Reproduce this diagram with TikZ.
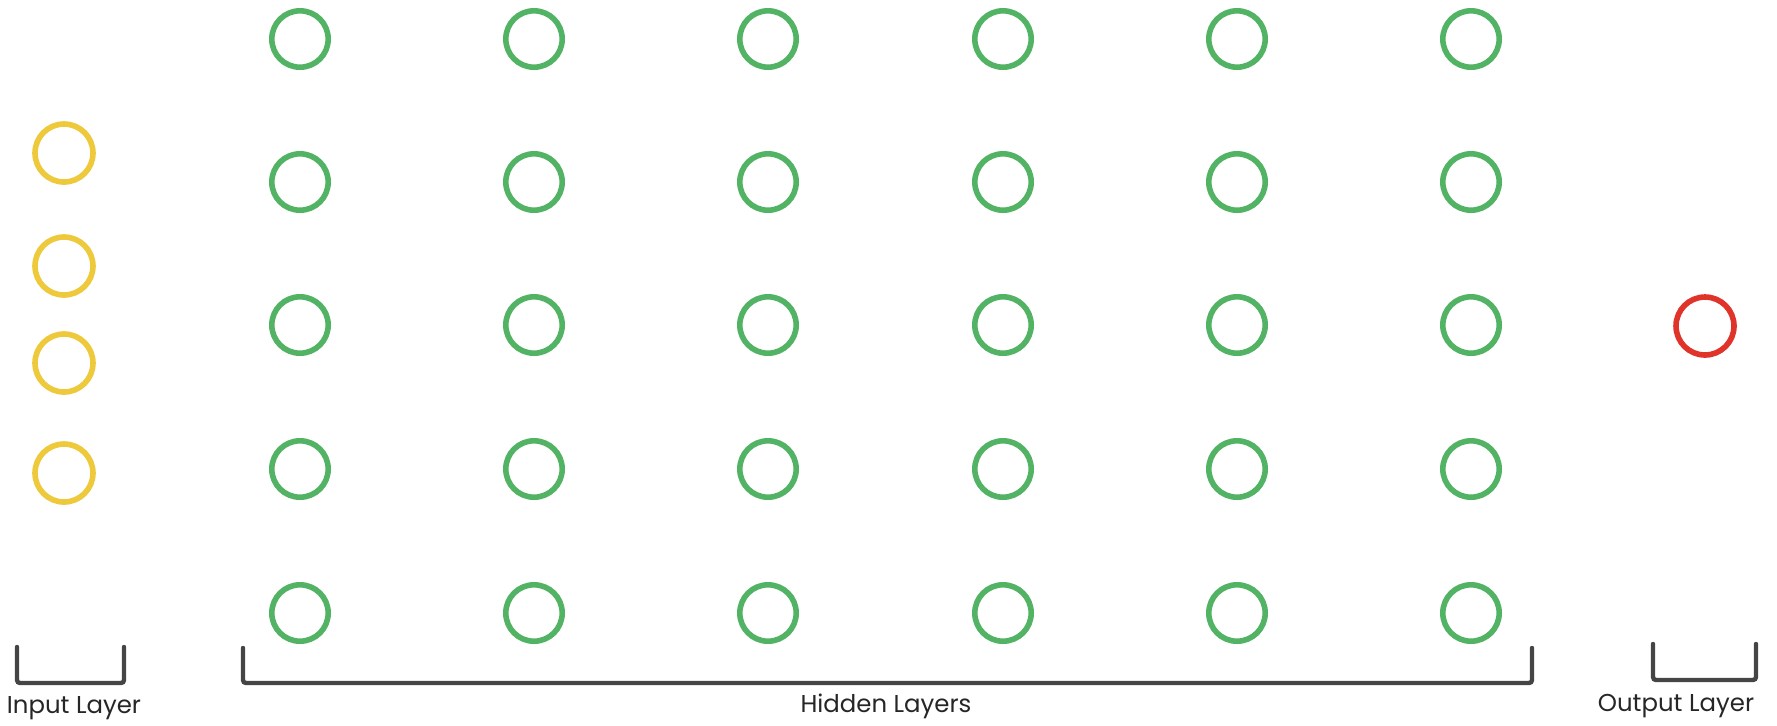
\documentclass[tikz,border=0pt]{standalone}
\usepackage{fontspec}
\setmainfont{Poppins}
\usetikzlibrary{shadows}
\definecolor{hgreen}{HTML}{52B365}
\definecolor{iyellow}{HTML}{EDC93B}
\definecolor{ored}{HTML}{E0342A}
\definecolor{brk}{HTML}{454545}
\definecolor{txt}{HTML}{262626}
\tikzset{
  neuron/.style={circle, draw, fill=white, line width=2.8pt, minimum size=28.2pt, inner sep=0pt,
    drop shadow={opacity=0.15, shadow xshift=0pt, shadow yshift=-1.2pt}},
  hid/.style={neuron, draw=hgreen},
  inp/.style={neuron, draw=iyellow, minimum size=29pt},
  outn/.style={neuron, draw=ored, minimum size=29pt},
  bracket/.style={draw=brk, line width=2.2pt, rounded corners=1.5pt, line cap=round},
  lbl/.style={text=txt, font=\fontsize{12.2pt}{14pt}\selectfont, inner sep=0pt}
}
\begin{document}
\begin{tikzpicture}[x=0.5pt,y=-0.5pt]
\useasboundingbox (0,0) rectangle (1777,725);
% input layer
\foreach \i/\y in {1/153,2/266,3/363,4/473}
  \node[inp] (in\i) at (64,\y) {};
% hidden layers
\foreach \c/\x in {1/300,2/534,3/768,4/1003,5/1237,6/1471}
  \foreach \r/\y in {1/39,2/182,3/325,4/469,5/613}
    \node[hid] (h\c\r) at (\x,\y) {};
% output
\node[outn] (out) at (1705,326) {};
% brackets
\coordinate (ib1) at (17,647); \coordinate (ib2) at (17,683);
\coordinate (ib3) at (124,683); \coordinate (ib4) at (124,647);
\draw[bracket] (ib1) -- (ib2) -- (ib3) -- (ib4);
\coordinate (hb1) at (243,648); \coordinate (hb2) at (243,683);
\coordinate (hb3) at (1532,683); \coordinate (hb4) at (1532,648);
\draw[bracket] (hb1) -- (hb2) -- (hb3) -- (hb4);
\coordinate (ob1) at (1653,644); \coordinate (ob2) at (1653,680);
\coordinate (ob3) at (1756,680); \coordinate (ob4) at (1756,644);
\draw[bracket] (ob1) -- (ob2) -- (ob3) -- (ob4);
% labels
\node[lbl] (linput) at (74,708) {Input Layer};
\node[lbl] (lhidden) at (886,706) {Hidden Layers};
\node[lbl] (loutput) at (1676,706) {Output Layer};
\end{tikzpicture}
\end{document}
